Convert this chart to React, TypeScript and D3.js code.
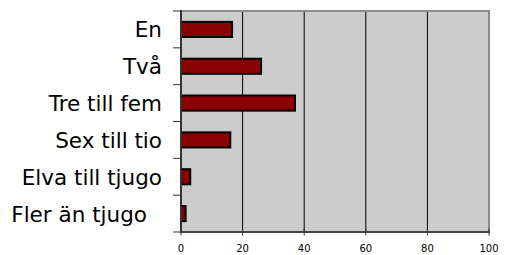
import React from "react";
import * as d3 from "d3";

const categories = ["En", "Två", "Tre till fem", "Sex till tio", "Elva till tjugo", "Fler än tjugo"];
const values = [16.6, 26, 37, 16, 3, 1.5];
const xTicks = [0, 20, 40, 60, 80, 100];

const W = 506;
const H = 255;
const left = 181;
const right = 489;
const top = 11;
const bottom = 232;

export default function App() {
  const x = d3.scaleLinear().domain([0, 100]).range([left, right]);
  const y = d3.scaleBand<string>().domain(categories).range([top, bottom]).paddingInner(0.59).paddingOuter(0.295);
  const step = y.step();
  const font = "'DejaVu Sans', Verdana, sans-serif";

  return (
    <svg width={W} height={H} style={{ position: "absolute", left: 0, top: 0, background: "#fff" }}>
      <rect x={left} y={top} width={right - left} height={bottom - top} fill="#cccccc" />
      {xTicks.filter((t) => t > 0 && t < 100).map((t) => (
        <line key={"g" + t} x1={x(t)} x2={x(t)} y1={top} y2={bottom} stroke="#000" strokeWidth={1} />
      ))}
      {/* top & right border */}
      <line x1={left} x2={right} y1={top} y2={top} stroke="#8c8c8c" strokeWidth={2} />
      <line x1={right} x2={right} y1={top - 1} y2={bottom} stroke="#8c8c8c" strokeWidth={2} />
      {/* bars */}
      {categories.map((c, i) => (
        <rect
          key={c}
          x={x(0)}
          y={y(c)!}
          width={x(values[i]) - x(0)}
          height={y.bandwidth()}
          fill="#8b0000"
          stroke="#000"
          strokeWidth={2}
        />
      ))}
      {/* left axis */}
      <line x1={left} x2={left} y1={top - 1} y2={bottom + 1} stroke="#333" strokeWidth={2} />
      {d3.range(categories.length + 1).map((i) => (
        <line key={"lt" + i} x1={left - 8} x2={left} y1={top + i * step} y2={top + i * step} stroke="#333" strokeWidth={1} />
      ))}
      {categories.map((c, i) => (
        <text
          key={"l" + c}
          x={i === categories.length - 1 ? 147 : 162}
          y={y(c)! + y.bandwidth() / 2}
          dy="0.37em"
          textAnchor="end"
          fontFamily={font}
          fontSize={21.5}
          fill="#000"
        >
          {c}
        </text>
      ))}
      {/* bottom axis */}
      <line x1={left} x2={right + 1} y1={bottom} y2={bottom} stroke="#444" strokeWidth={2} />
      {xTicks.map((t) => (
        <line key={"bt" + t} x1={x(t)} x2={x(t)} y1={bottom - 3.5} y2={bottom + 3.5} stroke="#333" strokeWidth={1} />
      ))}
      {xTicks.map((t) => (
        <text
          key={"bl" + t}
          x={x(t)}
          y={252}
          textAnchor="middle"
          fontFamily={font}
          fontSize={10}
          fill="#000"
        >
          {t}
        </text>
      ))}
    </svg>
  );
}
